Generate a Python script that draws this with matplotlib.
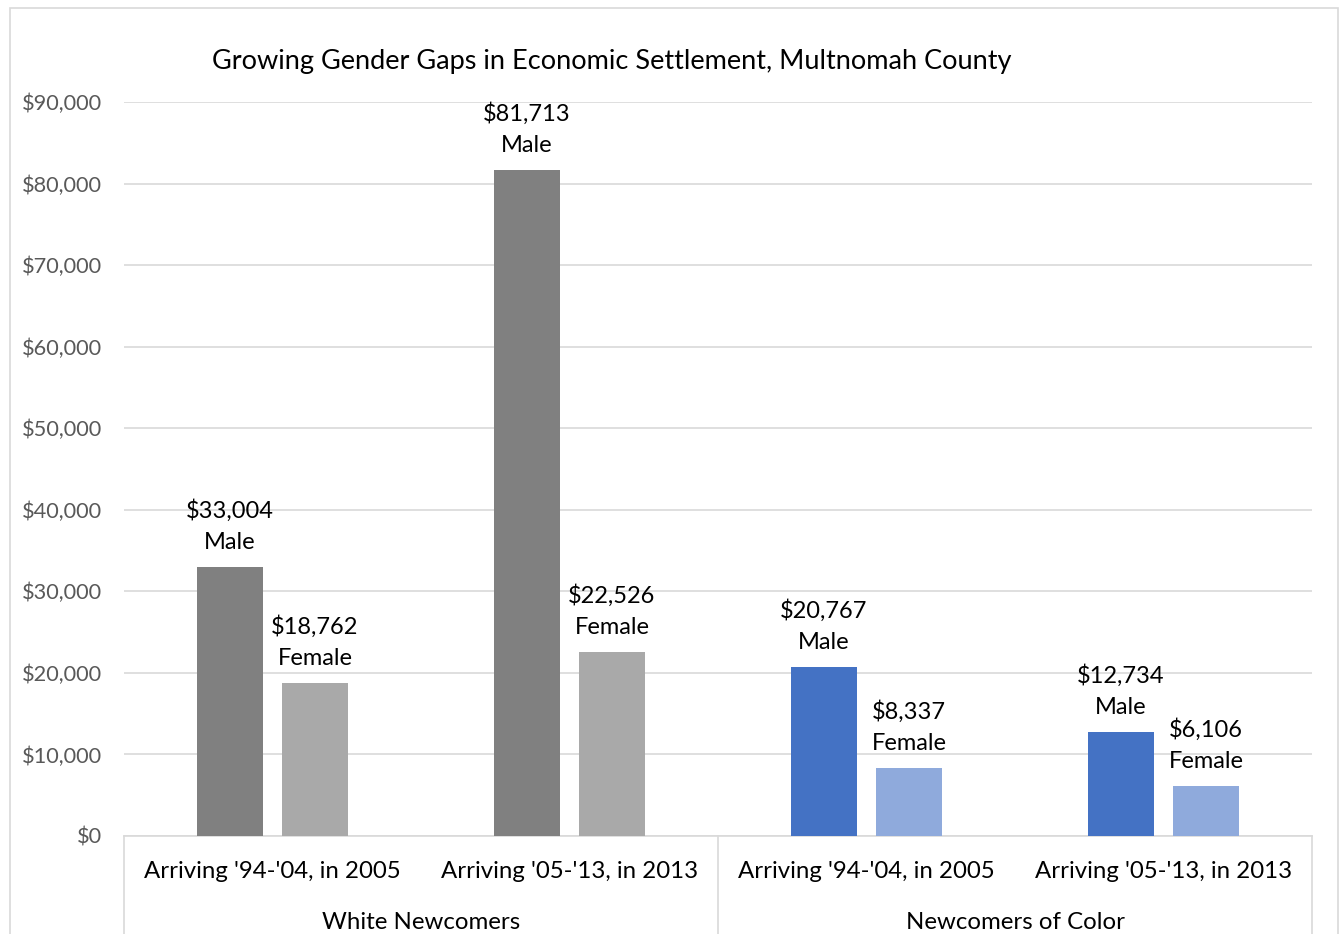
import numpy as np
import matplotlib
matplotlib.use("Agg")
import matplotlib.pyplot as plt
import matplotlib.transforms as mtransforms
from matplotlib.patches import Rectangle

plt.rcParams['font.family'] = ['Lato', 'DejaVu Sans']

# data
categories = ["Arriving '94-'04, in 2005", "Arriving '05-'13, in 2013",
              "Arriving '94-'04, in 2005", "Arriving '05-'13, in 2013"]
groups = ["White Newcomers", "Newcomers of Color"]
male = [33004, 81713, 20767, 12734]
female = [18762, 22526, 8337, 6106]
male_colors = ["#808080", "#808080", "#4472C4", "#4472C4"]
female_colors = ["#A9A9A9", "#A9A9A9", "#8FAADC", "#8FAADC"]

W, H = 1340, 934
fig = plt.figure(figsize=(W / 100, H / 100), dpi=100)

# outer chart border
fig.patches.append(Rectangle((10 / W, -0.01), 1328 / W, (934 - 8) / H + 0.01,
                             transform=fig.transFigure, fill=False,
                             edgecolor="#D9D9D9", linewidth=1.2))

ax = fig.add_axes([124 / W, (H - 836) / H, 1188 / W, 734 / H])

x = np.arange(len(categories))
bw = 0.222
off = 0.143
ax.bar(x - off, male, bw, color=male_colors, zorder=3)
ax.bar(x + off, female, bw, color=female_colors, zorder=3)

for i in range(len(categories)):
    ax.annotate("${:,}\nMale".format(male[i]), (x[i] - off, male[i]),
                xytext=(0, 14), textcoords="offset pixels", ha="center", va="bottom",
                fontsize=17, color="#000000", linespacing=1.6)
    ax.annotate("${:,}\nFemale".format(female[i]), (x[i] + off, female[i]),
                xytext=(0, 14), textcoords="offset pixels", ha="center", va="bottom",
                fontsize=17, color="#000000", linespacing=1.6)

ax.set_xlim(-0.5, len(categories) - 0.5)
ax.set_ylim(0, 90000)
ax.set_yticks(np.arange(0, 90001, 10000))
ax.set_yticklabels(["${:,}".format(v) for v in range(0, 90001, 10000)])
ax.tick_params(axis="y", length=0, pad=16, labelsize=15.7, labelcolor="#595959")
ax.set_xticks([])
ax.grid(axis="y", color="#D9D9D9", linewidth=1.2, zorder=0)
for s in ["left", "right", "top"]:
    ax.spines[s].set_visible(False)
ax.spines["bottom"].set_color("#D9D9D9")
ax.spines["bottom"].set_linewidth(1.2)

trans = mtransforms.blended_transform_factory(ax.transData, ax.transAxes)
for xs in [-0.5, 1.5, 3.5]:
    ax.plot([xs, xs], [0, -0.15], transform=trans, color="#D9D9D9",
            linewidth=1.2, clip_on=False)
for i, c in enumerate(categories):
    ax.text(x[i], -0.049, c, transform=trans, ha="center", va="center",
            fontsize=17.3, color="#000000")
for j, g in enumerate(groups):
    ax.text(0.5 + 2 * j, -0.118, g, transform=trans, ha="center", va="center",
            fontsize=17.3, color="#000000")

fig.text(612 / W, 1 - 62 / H, "Growing Gender Gaps in Economic Settlement, Multnomah County",
         ha="center", va="center", fontsize=19.5, color="#000000")

fig.savefig("out.png", dpi=100)
